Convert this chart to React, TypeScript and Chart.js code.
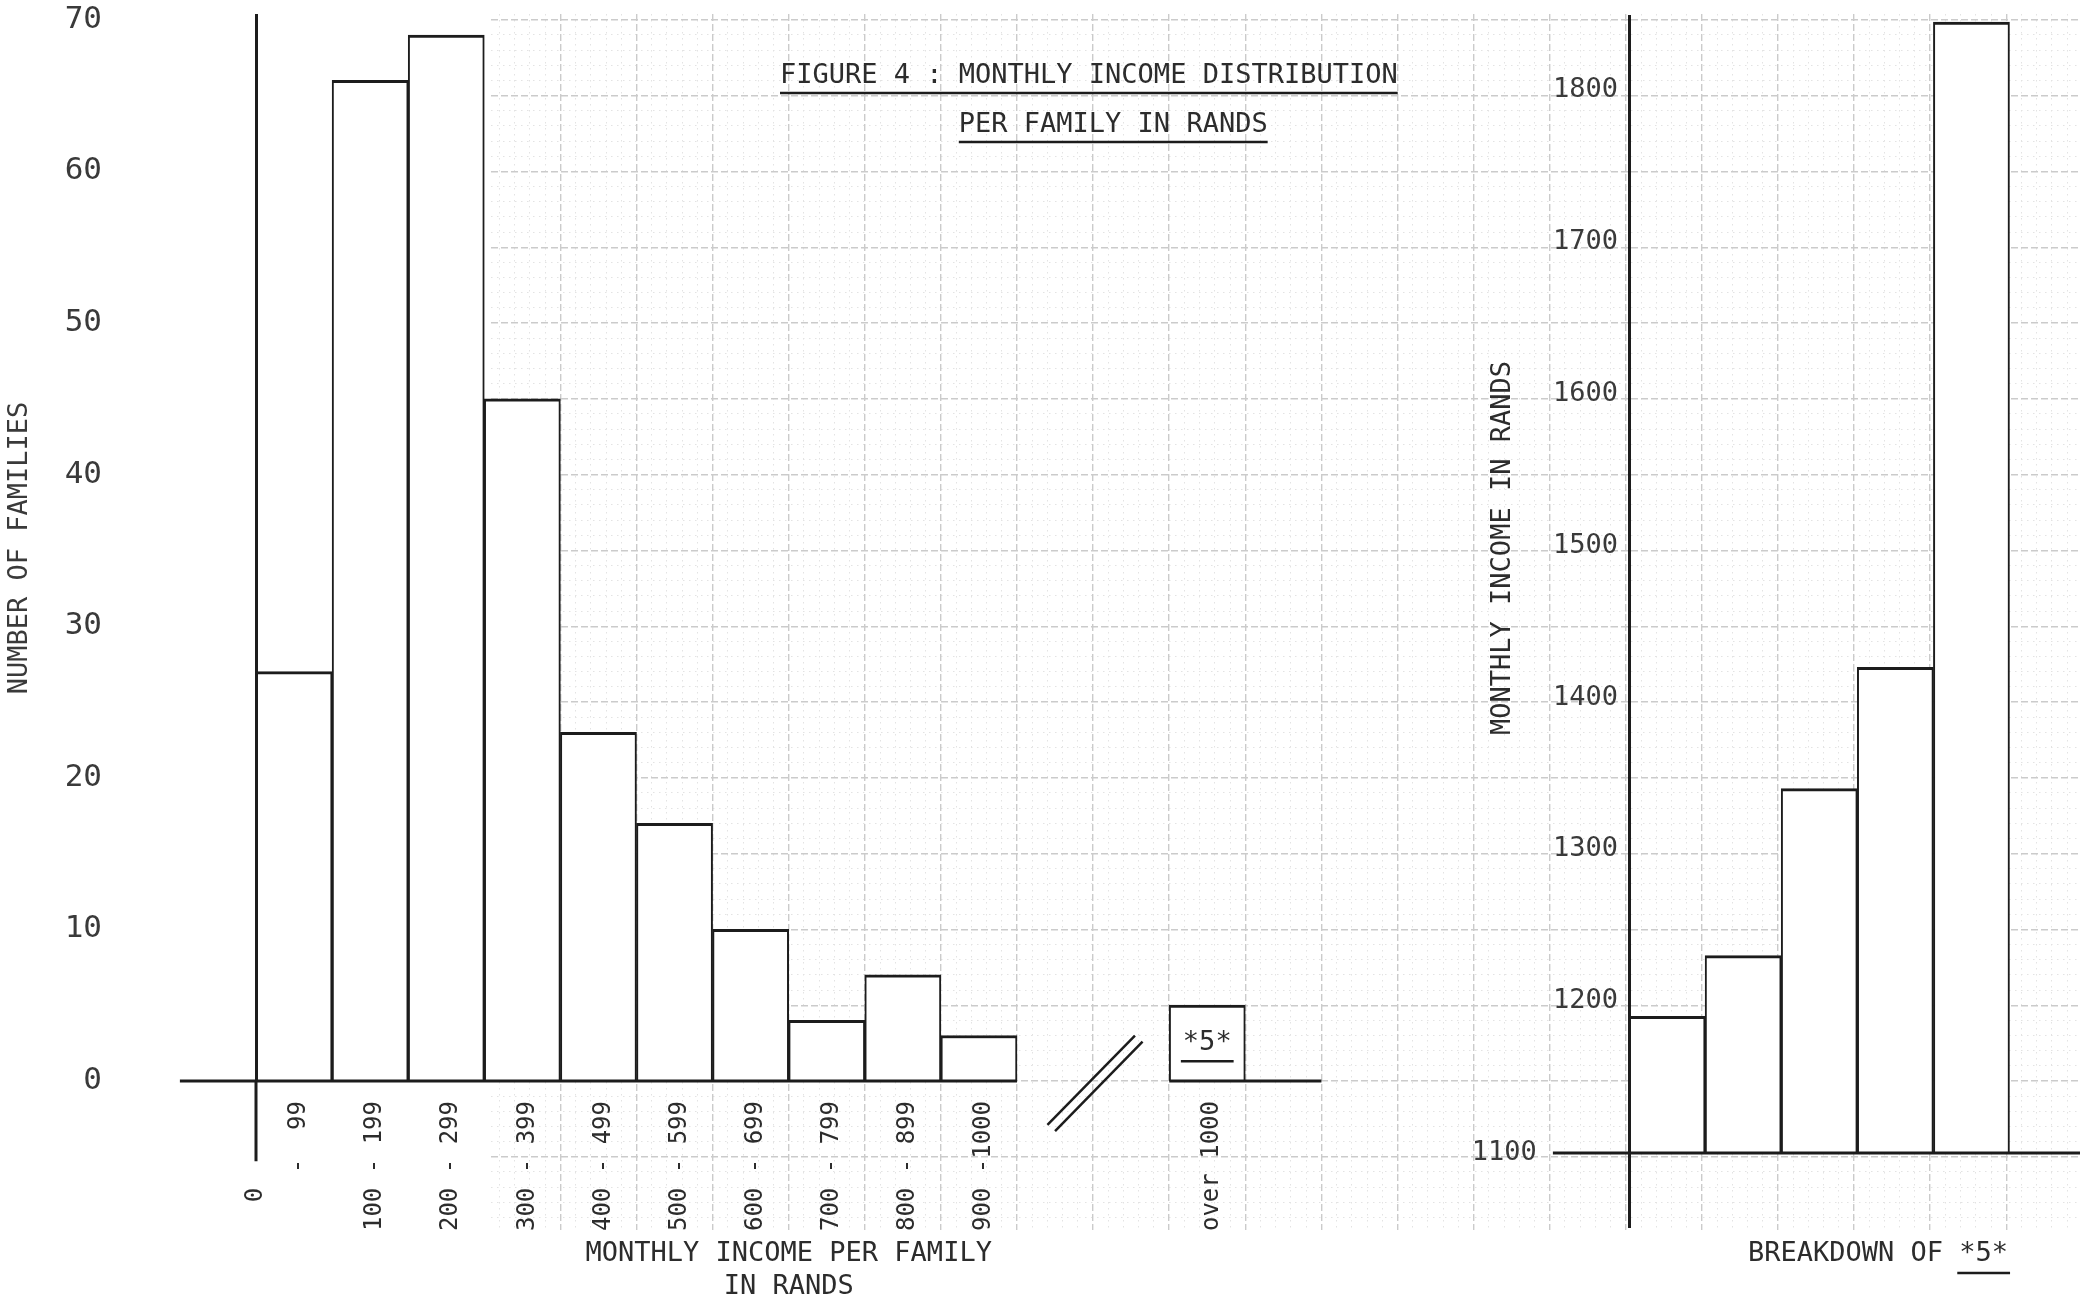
import React, { useEffect, useRef } from "react";
import { Chart, registerables } from "chart.js";

Chart.register(...registerables);

// ---------------- data ----------------
const INCOME_CLASSES = ["0 - 99", "100 - 199", "200 - 299", "300 - 399", "400 - 499", "500 - 599", "600 - 699", "700 - 799", "800 - 899", "900 - 1000", "over 1000"];
const FAMILY_COUNTS = [27, 66, 69, 45, 23, 17, 10, 4, 7, 3, 5];
// slot of each class on the income axis (slots 10-11 are the axis break)
const CLASS_SLOT = [0, 1, 2, 3, 4, 5, 6, 7, 8, 9, 12];
const X_TICK_LABELS = ["-  99", "100 - 199", "200 - 299", "300 - 399", "400 - 499", "500 - 599", "600 - 699", "700 - 799", "800 - 899", "900 -1000", "over 1000"];
const X_ORIGIN_LABEL = "0      ";
const Y_TICKS_FAMILIES = [0, 10, 20, 30, 40, 50, 60, 70];
const OVER_1000_MARK = "*5*";

const BREAKDOWN_INCOMES = [1190, 1230, 1340, 1420, 1845];
const BREAKDOWN_BASE = 1100;
const Y_TICKS_INCOME = [1100, 1200, 1300, 1400, 1500, 1600, 1700, 1800];
const Y_TICK_LABELS_INCOME = ["1100     ", "1200", "1300", "1400", "1500", "1600", "1700", "1800"];

const TITLE_LINES = ["FIGURE 4 : MONTHLY INCOME DISTRIBUTION", "PER FAMILY IN RANDS"];
const TITLE_INDENT = "FIGURE 4 : ";
const X_TITLE = ["MONTHLY INCOME PER FAMILY", "IN RANDS"];
const Y_TITLE = "NUMBER OF FAMILIES";
const Y2_TITLE = "MONTHLY INCOME IN RANDS";
const X2_TITLE_PREFIX = "BREAKDOWN OF ";

// axis geometry in slot / value units
const AXIS_START_SLOT = -1;
const BREAK_FROM_SLOT = 10;
const BREAK_TO_SLOT = 12;
const AXIS_END_SLOT = 14;
const Y_AXIS_FOOT = -5.3;
const BREAK_MARKS = [
  [{ x: 10.4, y: -2.9 }, { x: 11.55, y: 3.0 }],
  [{ x: 10.5, y: -3.3 }, { x: 11.65, y: 2.6 }],
];

// ---------------- style / layout ----------------
const FONT = "'DejaVu Sans Mono', 'Liberation Mono', monospace";
const INK = "#1c1c1c";
const TEXT = "#2c2c2c";
const NUM = "#3a3a3a";

const PAGE_W = 2080;
const PAGE_H = 1304;
const SLOT_PX = 76.1;
const AXIS_X = 256;
const ZERO_Y = 1081;
const PX_PER_FAMILY = 15.16;
const LEFT_TOP = 15;
const LEFT_W = 1420;
const X_TICK_PAD = 20;

const RIGHT_X = 1340;
const RIGHT_W = PAGE_W - RIGHT_X;
const RIGHT_AXIS_X = 1629;
const RIGHT_TOP = 16;
const RIGHT_BOTTOM = 1227;
const RIGHT_BASE_Y = 1153;
const PX_PER_RAND = 1.518;

const PAPER = { x: 491, y: 14, w: PAGE_W - 491, h: 1216 };

function clearPadding(s: any) {
  s.paddingLeft = 0;
  s.paddingRight = 0;
  s.paddingTop = 0;
  s.paddingBottom = 0;
}

function underline(ctx: CanvasRenderingContext2D, x0: number, x1: number, y: number) {
  ctx.beginPath();
  ctx.moveTo(x0, y);
  ctx.lineTo(x1, y);
  ctx.stroke();
}

export default function App() {
  const paperRef = useRef<HTMLCanvasElement>(null);
  const leftRef = useRef<HTMLCanvasElement>(null);
  const rightRef = useRef<HTMLCanvasElement>(null);

  useEffect(() => {
    const charts: Chart[] = [];

    // ---------- graph paper ----------
    const pxMin = (PAPER.x - AXIS_X) / SLOT_PX;
    const pxMax = (PAPER.x + PAPER.w - AXIS_X) / SLOT_PX;
    const pyMax = (ZERO_Y - PAPER.y) / PX_PER_FAMILY;
    const pyMin = (ZERO_Y - (PAPER.y + PAPER.h)) / PX_PER_FAMILY;
    const majorX: number[] = [];
    const minorX: number[] = [];
    for (let k = Math.ceil(pxMin * 5); k <= Math.floor(pxMax * 5); k++) {
      if (k % 5 === 0) majorX.push(k / 5);
      else minorX.push(k / 5);
    }
    const majorY: number[] = [];
    const minorY: number[] = [];
    for (let k = Math.ceil(pyMin); k <= Math.floor(pyMax); k++) {
      if (k % 5 === 0) majorY.push(k);
      else minorY.push(k);
    }
    const gridAxis = (axis: string, pos: string, min: number, max: number, ticks: number[], major: boolean) => ({
      type: "linear",
      axis,
      position: pos,
      min,
      max,
      afterBuildTicks: (s: any) => {
        s.ticks = ticks.map((v) => ({ value: v }));
      },
      afterFit: (s: any) => clearPadding(s),
      ticks: { display: false },
      grid: {
        color: major ? "#cbcbcb" : "#e3e3e3",
        lineWidth: major ? 1.4 : 1,
        drawTicks: false,
      },
      border: { display: false, dash: major ? [7, 3] : [1.5, 4.5] },
    });
    charts.push(
      new Chart(paperRef.current as HTMLCanvasElement, {
        type: "scatter",
        data: { datasets: [] },
        options: {
          responsive: false,
          animation: false,
          events: [],
          layout: { padding: 0 },
          plugins: { legend: { display: false }, tooltip: { enabled: false } },
          scales: {
            xm: gridAxis("x", "bottom", pxMin, pxMax, minorX, false),
            ym: gridAxis("y", "left", pyMin, pyMax, minorY, false),
            x: gridAxis("x", "bottom", pxMin, pxMax, majorX, true),
            y: gridAxis("y", "left", pyMin, pyMax, majorY, true),
          },
        } as any,
      })
    );

    // ---------- main histogram ----------
    const lineStyle = { type: "line", borderColor: INK, borderWidth: 3, pointRadius: 0, clip: false, spanGaps: false, tension: 0, order: 1 };
    const leftNotes = {
      id: "leftNotes",
      afterDraw(chart: any) {
        const ctx = chart.ctx as CanvasRenderingContext2D;
        const xs = chart.scales.x;
        const ys = chart.scales.y;
        ctx.save();
        ctx.fillStyle = TEXT;
        ctx.strokeStyle = INK;
        ctx.lineWidth = 2.5;
        ctx.textBaseline = "middle";

        // origin "0" of the income axis, typed under the vertical axis
        ctx.save();
        ctx.font = `24px ${FONT}`;
        ctx.translate(xs.getPixelForValue(0), ys.getPixelForValue(0) + X_TICK_PAD);
        ctx.rotate(-Math.PI / 2);
        ctx.textAlign = "right";
        ctx.fillText(X_ORIGIN_LABEL, 0, 0);
        ctx.restore();

        // figure title
        ctx.font = `27px ${FONT}`;
        ctx.textAlign = "left";
        const tx = 780;
        ctx.fillText(TITLE_LINES[0], tx, 76);
        const w0 = ctx.measureText(TITLE_LINES[0]).width;
        underline(ctx, tx, tx + w0, 93);
        const ind = ctx.measureText(TITLE_INDENT).width;
        ctx.fillText(TITLE_LINES[1], tx + ind, 125);
        const w1 = ctx.measureText(TITLE_LINES[1]).width;
        underline(ctx, tx + ind, tx + ind + w1, 142);

        // *5* mark inside the "over 1000" bar
        const bar = chart.getDatasetMeta(0).data[FAMILY_COUNTS.length - 1];
        ctx.textAlign = "center";
        ctx.fillText(OVER_1000_MARK, bar.x, ys.getPixelForValue(2.5));
        const wm = ctx.measureText(OVER_1000_MARK).width;
        underline(ctx, bar.x - wm / 2 - 2, bar.x + wm / 2 + 2, ys.getPixelForValue(1.3));
        ctx.restore();
      },
    };
    charts.push(
      new Chart(leftRef.current as HTMLCanvasElement, {
        type: "bar",
        data: {
          datasets: [
            {
              type: "bar",
              label: "Families",
              data: FAMILY_COUNTS.map((v, i) => ({ x: CLASS_SLOT[i] + 0.5, y: v, c: INCOME_CLASSES[i] })),
              backgroundColor: "#ffffff",
              borderColor: INK,
              borderWidth: { top: 3, left: 2, right: 2, bottom: 0 },
              barPercentage: 1,
              categoryPercentage: 1,
              order: 3,
            },
            {
              ...lineStyle,
              data: [
                { x: AXIS_START_SLOT, y: 0 },
                { x: BREAK_FROM_SLOT, y: 0 },
                { x: (BREAK_FROM_SLOT + BREAK_TO_SLOT) / 2, y: null },
                { x: BREAK_TO_SLOT, y: 0 },
                { x: AXIS_END_SLOT, y: 0 },
              ],
            },
            { ...lineStyle, data: [{ x: 0, y: 0 }, { x: 0, y: Y_AXIS_FOOT }] },
            ...BREAK_MARKS.map((m) => ({ ...lineStyle, borderWidth: 2.5, data: m })),
          ],
        } as any,
        options: {
          responsive: false,
          animation: false,
          events: [],
          layout: { padding: { left: 0, right: LEFT_W - (AXIS_X + AXIS_END_SLOT * SLOT_PX), top: LEFT_TOP, bottom: 0 } },
          plugins: { legend: { display: false }, tooltip: { enabled: false } },
          scales: {
            x: {
              type: "linear",
              position: "bottom",
              min: 0,
              max: AXIS_END_SLOT,
              offset: false,
              afterBuildTicks: (s: any) => {
                s.ticks = CLASS_SLOT.map((v) => ({ value: v + 0.5 }));
              },
              afterFit: (s: any) => {
                s.height = PAGE_H - ZERO_Y;
                clearPadding(s);
              },
              grid: { display: false, drawTicks: false },
              border: { display: false },
              ticks: {
                autoSkip: false,
                minRotation: 90,
                maxRotation: 90,
                padding: X_TICK_PAD,
                labelOffset: 5,
                font: { family: FONT, size: 24 },
                color: TEXT,
                callback: (_v: any, i: number) => X_TICK_LABELS[i],
              },
              title: {
                display: true,
                text: X_TITLE,
                font: { family: FONT, size: 27 },
                color: TEXT,
                padding: { top: 0, bottom: 1 },
              },
            },
            y: {
              type: "linear",
              position: "left",
              min: 0,
              max: (ZERO_Y - LEFT_TOP) / PX_PER_FAMILY,
              afterBuildTicks: (s: any) => {
                s.ticks = Y_TICKS_FAMILIES.map((v) => ({ value: v }));
              },
              afterFit: (s: any) => {
                s.width = AXIS_X;
                clearPadding(s);
              },
              grid: { display: false, drawTicks: false },
              border: { display: true, color: INK, width: 3, z: 1 },
              ticks: { padding: 154, font: { family: FONT, size: 31 }, color: NUM },
              title: {
                display: true,
                text: Y_TITLE,
                font: { family: FONT, size: 27 },
                color: NUM,
                padding: { top: 4, bottom: 0 },
              },
            },
          },
        } as any,
        plugins: [leftNotes],
      })
    );

    // ---------- breakdown of *5* ----------
    const rightNotes = {
      id: "rightNotes",
      afterDraw(chart: any) {
        const ctx = chart.ctx as CanvasRenderingContext2D;
        ctx.save();
        ctx.fillStyle = TEXT;
        ctx.strokeStyle = INK;
        ctx.lineWidth = 2.5;
        ctx.font = `27px ${FONT}`;
        ctx.textBaseline = "middle";
        // vertical axis title
        ctx.save();
        ctx.translate(1503 - RIGHT_X, 548);
        ctx.rotate(-Math.PI / 2);
        ctx.textAlign = "center";
        ctx.fillText(Y2_TITLE, 0, 0);
        ctx.restore();
        // bottom caption
        ctx.textAlign = "left";
        const wp = ctx.measureText(X2_TITLE_PREFIX).width;
        const wm = ctx.measureText(OVER_1000_MARK).width;
        const x0 = 1878 - RIGHT_X - (wp + wm) / 2;
        ctx.fillText(X2_TITLE_PREFIX + OVER_1000_MARK, x0, 1254);
        underline(ctx, x0 + wp - 2, x0 + wp + wm + 2, 1273);
        ctx.restore();
      },
    };
    const rightXMax = (PAGE_W - RIGHT_AXIS_X) / SLOT_PX;
    charts.push(
      new Chart(rightRef.current as HTMLCanvasElement, {
        type: "bar",
        data: {
          datasets: [
            {
              type: "bar",
              label: "Income",
              data: BREAKDOWN_INCOMES.map((v, i) => ({ x: i + 0.5, y: [BREAKDOWN_BASE, v] })),
              backgroundColor: "#ffffff",
              borderColor: INK,
              borderWidth: { top: 3, left: 2, right: 2, bottom: 0 },
              borderSkipped: "start",
              barPercentage: 1,
              categoryPercentage: 1,
              order: 3,
            },
            {
              ...lineStyle,
              data: [
                { x: AXIS_START_SLOT, y: BREAKDOWN_BASE },
                { x: rightXMax, y: BREAKDOWN_BASE },
              ],
            },
          ],
        } as any,
        options: {
          responsive: false,
          animation: false,
          events: [],
          layout: { padding: { left: 0, right: 0, top: RIGHT_TOP, bottom: PAGE_H - RIGHT_BOTTOM } },
          plugins: { legend: { display: false }, tooltip: { enabled: false } },
          scales: {
            x: {
              type: "linear",
              display: false,
              min: 0,
              max: rightXMax,
              offset: false,
              afterBuildTicks: (s: any) => {
                s.ticks = BREAKDOWN_INCOMES.map((_v, i) => ({ value: i }));
              },
            },
            y: {
              type: "linear",
              position: "left",
              min: BREAKDOWN_BASE - (RIGHT_BOTTOM - RIGHT_BASE_Y) / PX_PER_RAND,
              max: BREAKDOWN_BASE + (RIGHT_BASE_Y - RIGHT_TOP) / PX_PER_RAND,
              afterBuildTicks: (s: any) => {
                s.ticks = Y_TICKS_INCOME.map((v) => ({ value: v }));
              },
              afterFit: (s: any) => {
                s.width = RIGHT_AXIS_X - RIGHT_X;
                clearPadding(s);
              },
              grid: { display: false, drawTicks: false },
              border: { display: true, color: INK, width: 3, z: 1 },
              ticks: {
                padding: 11,
                font: { family: FONT, size: 27 },
                color: NUM,
                callback: (_v: any, i: number) => Y_TICK_LABELS_INCOME[i],
              },
            },
          },
        } as any,
        plugins: [rightNotes],
      })
    );

    return () => charts.forEach((c) => c.destroy());
  }, []);

  const abs = (x: number, y: number, w: number, h: number) => ({
    position: "absolute" as const,
    left: x,
    top: y,
    width: w,
    height: h,
  });

  return (
    <div style={{ position: "absolute", left: 0, top: 0, width: PAGE_W, height: PAGE_H, overflow: "hidden", background: "#ffffff" }}>
      <canvas ref={paperRef} width={PAPER.w} height={PAPER.h} style={abs(PAPER.x, PAPER.y, PAPER.w, PAPER.h)} />
      <canvas ref={leftRef} width={LEFT_W} height={PAGE_H} style={abs(0, 0, LEFT_W, PAGE_H)} />
      <canvas ref={rightRef} width={RIGHT_W} height={PAGE_H} style={abs(RIGHT_X, 0, RIGHT_W, PAGE_H)} />
    </div>
  );
}
